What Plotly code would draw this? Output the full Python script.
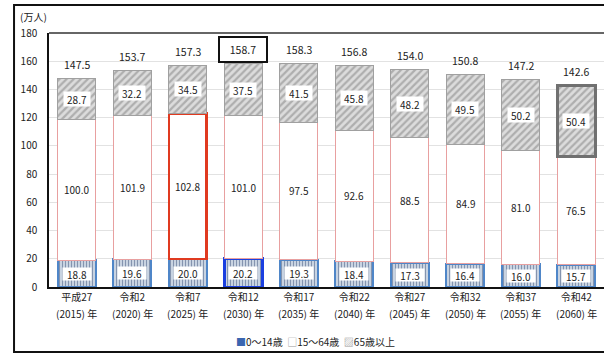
import plotly.graph_objects as go

eras = ["平成27", "令和2", "令和7", "令和12", "令和17", "令和22", "令和27", "令和32", "令和37", "令和42"]
years = ["(2015) 年", "(2020) 年", "(2025) 年", "(2030) 年", "(2035) 年",
         "(2040) 年", "(2045) 年", "(2050) 年", "(2055) 年", "(2060) 年"]
age_0_14 = [18.8, 19.6, 20.0, 20.2, 19.3, 18.4, 17.3, 16.4, 16.0, 15.7]
age_15_64 = [100.0, 101.9, 102.8, 101.0, 97.5, 92.6, 88.5, 84.9, 81.0, 76.5]
age_65 = [28.7, 32.2, 34.5, 37.5, 41.5, 45.8, 48.2, 49.5, 50.2, 50.4]
totals = [147.5, 153.7, 157.3, 158.7, 158.3, 156.8, 154.0, 150.8, 147.2, 142.6]
y_ticks = [0, 20, 40, 60, 80, 100, 120, 140, 160, 180]

FONT = "Noto Sans CJK JP"
n = len(eras)
xs = list(range(n))

c1_lc = ["#4f86c8"] * n; c1_lw = [2] * n
c1_lc[3] = "#1a3fe0"; c1_lw[3] = 3
c2_lc = ["#e8a0a0"] * n; c2_lw = [1] * n
c2_lc[2] = "#e03a20"; c2_lw[2] = 2.5
c3_lc = ["#a0a0a0"] * n; c3_lw = [1] * n
c3_lc[9] = "#707070"; c3_lw[9] = 3

fig = go.Figure()
fig.add_bar(x=xs, y=age_0_14, name="0～14歳", width=0.68,
            marker=dict(color="white", line=dict(color=c1_lc, width=c1_lw),
                        pattern=dict(shape="|", fgcolor="#1f3a66", bgcolor="#e8eff8", size=3, solidity=0.55)),
            showlegend=False)
fig.add_bar(x=xs, y=age_15_64, name="15～64歳", width=0.68,
            marker=dict(color="white", line=dict(color=c2_lc, width=c2_lw)), showlegend=False)
fig.add_bar(x=xs, y=age_65, name="65歳以上", width=0.68,
            marker=dict(color="#d8d8d8", line=dict(color=c3_lc, width=c3_lw),
                        pattern=dict(shape="/", fgcolor="#808080", bgcolor="#dcdcdc", size=5, solidity=0.45)),
            showlegend=False)

ann = []
for i in xs:
    a, b, c = age_0_14[i], age_15_64[i], age_65[i]
    ann.append(dict(x=i, y=a / 2, text=f"{a:.1f}", showarrow=False, bgcolor="white",
                    width=28, height=12, borderpad=0, font=dict(size=10, family=FONT, color="#222")))
    ann.append(dict(x=i, y=a + b / 2, text=f"{b:.1f}", showarrow=False,
                    font=dict(size=10, family=FONT, color="#222")))
    ann.append(dict(x=i, y=a + b + c / 2, text=f"{c:.1f}", showarrow=False, bgcolor="white",
                    width=26, height=14, borderpad=0, font=dict(size=10, family=FONT, color="#222")))
    t = dict(x=i, y=totals[i], text=f"{totals[i]:.1f}", showarrow=False, yanchor="middle", yshift=14,
             font=dict(size=10.5, family=FONT, color="#222"))
    if i == 3:
        t.update(bordercolor="#111", borderwidth=2, borderpad=4, width=38)
    ann.append(t)
    ann.append(dict(x=i, xref="x", yref="paper", y=0, yanchor="middle", yshift=-26,
                    text=years[i], showarrow=False, font=dict(size=10, family=FONT, color="#222")))

ann.append(dict(xref="paper", yref="paper", x=-0.055, y=1.065, xanchor="left", yanchor="middle",
                text="(万人)", showarrow=False, font=dict(size=10, family=FONT, color="#222")))
ann.append(dict(xref="paper", yref="paper", x=0.48, y=-0.213, xanchor="center", yanchor="middle",
                text='<span style="color:#3a66b0">■</span>0～14歳  <span style="color:#999">□</span>15～64歳  '
                     '<span style="color:#999">▨</span>65歳以上',
                showarrow=False, font=dict(size=10, family=FONT, color="#222")))

fig.update_layout(
    width=604, height=354,
    margin=dict(l=49, r=0, t=33, b=67),
    barmode="stack", bargap=0.32,
    paper_bgcolor="white", plot_bgcolor="white",
    annotations=ann,
    shapes=[
        dict(type="rect", xref="paper", yref="paper", x0=-0.063, x1=1.05, y0=-0.256, y1=1.11,
             line=dict(color="#111", width=2), layer="above"),
        dict(type="line", xref="paper", yref="paper", x0=0, x1=1, y0=1, y1=1,
             line=dict(color="#666", width=2)),
    ],
    xaxis=dict(tickmode="array", tickvals=xs, ticktext=eras, range=[-0.5, 9.5],
               showline=True, linecolor="#111", linewidth=1.5, ticks="",
               tickfont=dict(size=10, family=FONT, color="#222"), showgrid=False),
    yaxis=dict(range=[0, 180], tickvals=y_ticks, showline=True, linecolor="#111", linewidth=1.5,
               showgrid=True, gridcolor="#e2e2e2", gridwidth=1, ticks="", ticklabelstandoff=8,
               tickfont=dict(size=10, family=FONT, color="#222"), zeroline=False),
)

fig.write_html("out.html")
